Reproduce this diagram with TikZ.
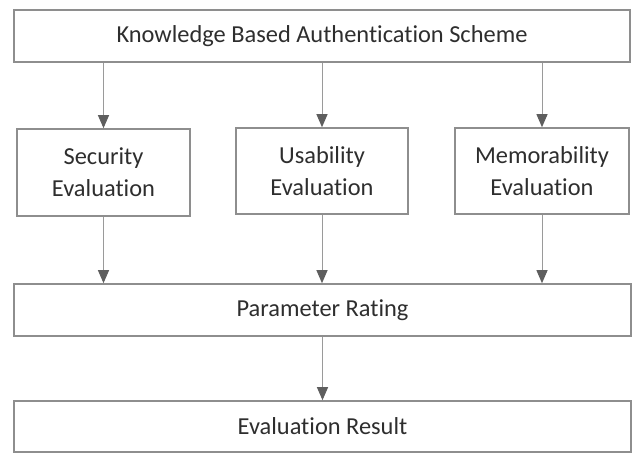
\documentclass[tikz,border=0pt]{standalone}
\usepackage{fontspec}
\setmainfont[RawFeature={-liga;-clig;-dlig}]{Carlito}
\usetikzlibrary{arrows.meta}
\definecolor{boxline}{HTML}{8E8E8E}
\definecolor{linkline}{HTML}{9A9A9A}
\definecolor{tipfill}{HTML}{5E5E5E}
\begin{document}
\begin{tikzpicture}[x=1pt,y=-1pt,
  box/.style={draw=boxline, line width=1.6pt, fill=white, inner sep=0pt,
    align=center, font=\fontsize{24.4}{32}\selectfont, text=black!82},
  link/.style={draw=linkline, line width=1pt,
    -{Triangle[length=13pt,width=11pt,fill=tipfill,color=tipfill]}}]
\useasboundingbox (0,0) rectangle (632,453);
\node[box, minimum width=616pt, minimum height=52pt] (kba) at (322,36) {Knowledge Based Authentication Scheme};
\node[box, minimum width=173pt, minimum height=87pt] (sec) at (103.5,172.5) {Security\\Evaluation};
\node[box, minimum width=172pt, minimum height=86pt] (usa) at (322,171) {Usability\\Evaluation};
\node[box, minimum width=174pt, minimum height=86pt] (mem) at (542,171) {Memorability\\Evaluation};
\node[box, minimum width=617pt, minimum height=52pt] (par) at (322.5,310) {Parameter Rating};
\node[box, minimum width=617pt, minimum height=51pt] (res) at (322.5,426.5) {Evaluation Result};
\draw[link] (kba.south -| sec.north) -- (sec.north);
\draw[link] (kba.south -| usa.north) -- (usa.north);
\draw[link] (kba.south -| mem.north) -- (mem.north);
\draw[link] (sec.south) -- (sec.south |- par.north);
\draw[link] (usa.south) -- (usa.south |- par.north);
\draw[link] (mem.south) -- (mem.south |- par.north);
\draw[link] (par.south) -- (par.south |- res.north);
\end{tikzpicture}
\end{document}
